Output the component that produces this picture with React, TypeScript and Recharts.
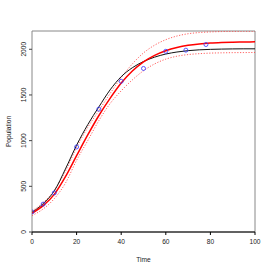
import React from "react";
import {
  ComposedChart,
  Line,
  Scatter,
  XAxis,
  YAxis,
  ReferenceArea,
} from "recharts";

const times = [0, 5, 10, 15, 20, 25, 30, 35, 40, 45, 50, 55, 60, 65, 70, 75, 80, 85, 90, 95, 100];
const modelFit = [215, 310, 450, 690, 950, 1175, 1370, 1555, 1700, 1798, 1866, 1914, 1948, 1970, 1985, 1994, 1999, 2002, 2004, 2005, 2005];
const meanFit = [205, 288, 412, 605, 835, 1062, 1275, 1462, 1630, 1762, 1863, 1934, 1984, 2019, 2043, 2058, 2068, 2074, 2078, 2080, 2081];
const upperBand = [230, 320, 455, 665, 925, 1145, 1330, 1515, 1690, 1840, 1960, 2045, 2105, 2145, 2170, 2183, 2190, 2194, 2196, 2197, 2198];
const lowerBand = [180, 252, 365, 535, 785, 1000, 1220, 1405, 1545, 1665, 1765, 1840, 1892, 1924, 1942, 1952, 1958, 1961, 1963, 1964, 1965];

const obsTimes = [0, 5, 10, 20, 30, 40, 50, 60, 69, 78];
const obsPop = [220, 305, 428, 931, 1345, 1650, 1790, 1978, 1990, 2052];

const xTicks = [0, 20, 40, 60, 80, 100];
const yTicks = [0, 500, 1000, 1500, 2000];

const mk = (vals: number[]) => times.map((t, i) => ({ t, v: vals[i] }));
const blackData = mk(modelFit);
const redData = mk(meanFit);
const upperData = mk(upperBand);
const lowerData = mk(lowerBand);
const pointData = obsTimes.map((t, i) => ({ t, v: obsPop[i] }));

const FONT = "'Liberation Sans', Arial, sans-serif";
const FS = 6.6;

const YTick = (props: any) => {
  const { x, y, payload } = props;
  return (
    <text
      transform={`translate(${x - 4},${y}) rotate(-90)`}
      textAnchor="middle"
      dominantBaseline="central"
      fontSize={FS}
      fontFamily={FONT}
      fill="#222"
    >
      {payload.value}
    </text>
  );
};

const XLabel = (props: any) => {
  const { viewBox } = props;
  const cx = viewBox.x + viewBox.width / 2;
  return (
    <text x={cx} y={viewBox.y + 27} textAnchor="middle" dominantBaseline="central" fontSize={FS} fontFamily={FONT} fill="#222">
      Time
    </text>
  );
};

const YLabel = (props: any) => {
  const { viewBox } = props;
  const cy = viewBox.y + viewBox.height / 2;
  return (
    <text
      transform={`translate(${viewBox.x + 8},${cy}) rotate(-90)`}
      textAnchor="middle"
      dominantBaseline="central"
      fontSize={FS}
      fontFamily={FONT}
      fill="#222"
    >
      Population
    </text>
  );
};

const Circle = (props: any) => {
  const { cx, cy } = props;
  return <circle cx={cx} cy={cy} r={2} fill="none" stroke="#3333ff" strokeWidth={0.8} />;
};

export default function App() {
  return (
    <div style={{ position: "absolute", left: 0, top: 0, width: 271, height: 271, background: "#fff" }}>
      <ComposedChart
        width={271}
        height={271}
        margin={{ top: 31, right: 16, bottom: 0, left: 0 }}
      >
        <XAxis
          dataKey="t"
          type="number"
          domain={[0, 100]}
          ticks={xTicks}
          allowDataOverflow
          height={39}
          tickSize={3}
          tickMargin={4}
          axisLine={{ stroke: "#000", strokeWidth: 1 }}
          tickLine={{ stroke: "#000" }}
          tick={{ fontSize: FS, fontFamily: FONT, fill: "#222" }}
          label={<XLabel />}
        />
        <YAxis
          dataKey="v"
          type="number"
          domain={[0, 2200]}
          ticks={yTicks}
          allowDataOverflow
          width={32}
          tickSize={3}
          tickMargin={2}
          axisLine={false}
          tickLine={{ stroke: "#444" }}
          tick={<YTick />}
          label={<YLabel />}
        />
        <ReferenceArea x1={0} x2={100} y1={0} y2={2200} fill="none" stroke="#888" strokeWidth={1} ifOverflow="visible" />
        <Line data={upperData} dataKey="v" type="monotone" stroke="#ff4444" strokeOpacity={0.85} strokeWidth={1} strokeDasharray="1.2 1.6" dot={false} isAnimationActive={false} />
        <Line data={lowerData} dataKey="v" type="monotone" stroke="#ff4444" strokeOpacity={0.85} strokeWidth={1} strokeDasharray="1.2 1.6" dot={false} isAnimationActive={false} />
        <Line data={blackData} dataKey="v" type="monotone" stroke="#111" strokeWidth={1} dot={false} isAnimationActive={false} />
        <Line data={redData} dataKey="v" type="monotone" stroke="#ff0000" strokeWidth={1.5} dot={false} isAnimationActive={false} />
        <Scatter data={pointData} dataKey="v" shape={<Circle />} isAnimationActive={false} />
      </ComposedChart>
    </div>
  );
}
